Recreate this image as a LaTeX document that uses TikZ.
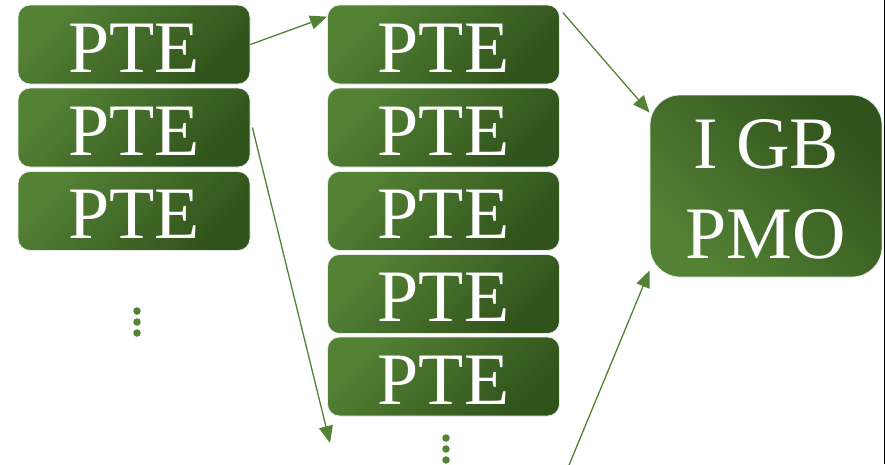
\documentclass[tikz,border=0pt]{standalone}
\usepackage{fontspec}
\setmainfont{Liberation Serif}
\usetikzlibrary{arrows.meta}
\definecolor{gLight}{HTML}{548235}
\definecolor{gDark}{HTML}{30521B}
\tikzset{
  pte/.style={rounded corners=12pt, draw=black!8, line width=0.8pt,
    shading=axis, top color=gLight, bottom color=gDark, shading angle=45,
    minimum width=232pt, minimum height=79pt, inner sep=0pt,
    text=white, font=\fontsize{74}{74}\selectfont,
    text height=55pt, text depth=0pt},
  pmo/.style={rounded corners=30pt, draw=black!8, line width=0.8pt,
    shading=axis, top color=gLight, bottom color=gDark, shading angle=135,
    minimum width=232pt, minimum height=182pt, inner sep=0pt},
  pmotext/.style={text=white, align=center, inner sep=0pt,
    font=\fontsize{74}{90}\selectfont},
  link/.style={draw=gLight, line width=1.3pt,
    -{Triangle[length=17pt, width=14pt]}},
  dot/.style={circle, fill=gLight, inner sep=0pt, minimum size=7.5pt}
}
\begin{document}
\begin{tikzpicture}[x=1pt, y=-1pt]
\useasboundingbox (0,0) rectangle (885,464);

% left column
\node[pte] (l1) at (134,44.5) {PTE};
\node[pte] (l2) at (134,127.5) {PTE};
\node[pte] (l3) at (134,211) {PTE};

% middle column
\node[pte] (m1) at (443.5,44.5) {PTE};
\node[pte] (m2) at (443.5,127.5) {PTE};
\node[pte] (m3) at (443.5,211) {PTE};
\node[pte] (m4) at (443.5,294) {PTE};
\node[pte] (m5) at (443.5,376.5) {PTE};

% target box and its two-line caption
\node[pmo] (r) at (766,186) {};
\node[pmotext] (rt) at (766,189) {I GB\\PMO};

% ellipses
\node[dot] (ld1) at (137,311) {};
\node[dot] (ld2) at (137,322) {};
\node[dot] (ld3) at (137,333) {};
\node[dot] (md1) at (446,438) {};
\node[dot] (md2) at (446,449) {};
\node[dot] (md3) at (446,460) {};

% free ends
\coordinate (c3) at (330,443);
\coordinate (c4) at (567,470);

% connectors
\draw[link] (l1.east) -- ([yshift=-12pt]m1.north west);
\draw[link] ([shift={(3pt,-8pt)}]m1.north east) -- ([yshift=-18pt]r.north west);
\draw[link] ([xshift=2pt]l2.east) -- (c3);
\draw[link] (c4) -- ([yshift=7pt]r.south west);

% frame edge
\fill[black] (883.5,0) rectangle (885,464);
\end{tikzpicture}
\end{document}
